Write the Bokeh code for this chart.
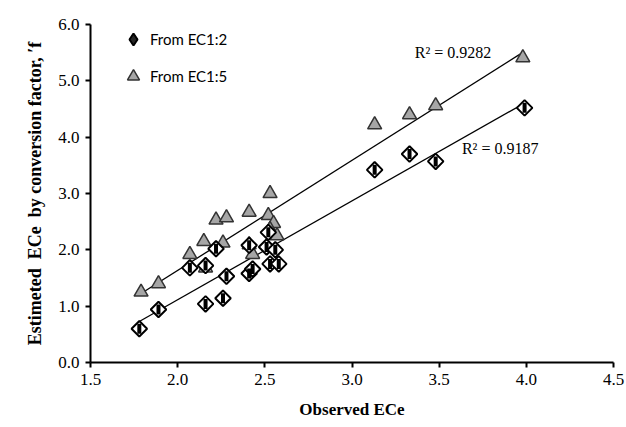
import numpy as np
from bokeh.plotting import figure
from bokeh.models import Legend, LegendItem, Range1d, Label, FixedTicker
from bokeh.embed import file_html
from bokeh.resources import INLINE

# EC1:2 derived estimates (diamonds)
x12 = [1.78, 1.89, 2.16, 2.26, 2.07, 2.16, 2.22, 2.28, 2.41, 2.43,
       2.41, 2.51, 2.56, 2.53, 2.58, 2.52, 3.13, 3.33, 3.48, 3.99]
y12 = [0.60, 0.94, 1.04, 1.14, 1.68, 1.72, 2.02, 1.53, 1.58, 1.66,
       2.08, 2.05, 2.00, 1.75, 1.75, 2.31, 3.42, 3.70, 3.57, 4.52]
# EC1:5 derived estimates (triangles)
x15 = [1.79, 1.89, 2.07, 2.15, 2.16, 2.22, 2.28, 2.26, 2.41, 2.41,
       2.43, 2.53, 2.52, 2.55, 2.53, 2.57, 3.13, 3.33, 3.48, 3.98]
y15 = [1.25, 1.40, 1.92, 2.15, 1.68, 2.53, 2.57, 2.12, 2.67, 2.09,
       1.92, 3.00, 2.61, 2.47, 2.36, 2.25, 4.22, 4.40, 4.56, 5.41]
r2_labels = ["R\u00b2 = 0.9282", "R\u00b2 = 0.9187"]
x_ticks = [1.5, 2.0, 2.5, 3.0, 3.5, 4.0, 4.5]
y_ticks = [0.0, 1.0, 2.0, 3.0, 4.0, 5.0, 6.0]

p = figure(width=626, height=427, output_backend="svg", toolbar_location=None,
           x_range=Range1d(1.5, 4.5), y_range=Range1d(0, 6.0),
           min_border_left=90, min_border_right=13, min_border_top=24, min_border_bottom=65)
p.outline_line_color = None
p.grid.visible = False
p.background_fill_color = "white"
p.border_fill_color = "white"

for ax in (p.xaxis[0], p.yaxis[0]):
    ax.axis_line_width = 2
    ax.axis_line_color = "black"
    ax.major_tick_line_width = 2
    ax.major_tick_line_color = "black"
    ax.major_tick_out = 5
    ax.major_tick_in = 0
    ax.minor_tick_line_color = None
    ax.major_label_text_font = "Liberation Serif"
    ax.major_label_text_font_size = "17px"
    ax.major_label_text_color = "black"
    ax.axis_label_text_font = "Liberation Serif"
    ax.axis_label_text_font_style = "bold"
    ax.axis_label_text_color = "black"

p.xaxis.axis_label_text_font_size = "17px"
p.yaxis.axis_label_text_font_size = "18px"
p.xaxis.ticker = FixedTicker(ticks=x_ticks)
p.yaxis.ticker = FixedTicker(ticks=y_ticks)
p.xaxis.major_label_overrides = {t: f"{t:.1f}" for t in x_ticks}
p.yaxis.major_label_overrides = {t: f"{t:.1f}" for t in y_ticks}
p.xaxis.axis_label = "Observed ECe"
p.yaxis.axis_label = "Estimeted\u00a0\u00a0ECe\u00a0\u00a0by conversion factor, \u2032f"
p.xaxis.major_label_standoff = 6
p.yaxis.major_label_standoff = 6
p.xaxis.axis_label_standoff = 12
p.yaxis.axis_label_standoff = 10

# trend lines from least squares fits
for xs, ys in ((x15, y15), (x12, y12)):
    k, b = np.polyfit(xs, ys, 1)
    xl = np.array([min(xs), max(xs)])
    p.line(xl, k * xl + b, line_color="black", line_width=1.3)

tri = p.scatter(x15, y15, marker="triangle", size=14, fill_color="#a6a6a6",
                line_color="#333333", line_width=1.5)
dia = p.scatter(x12, y12, marker="square", angle=np.pi / 4, size=11, fill_color="white",
                line_color="black", line_width=2)
p.scatter(x12, y12, marker="dash", angle=np.pi / 2, size=10, line_color="black",
          line_width=4)

# legend-only glyphs (hidden in the plot area)
leg_dia = p.scatter(x12[:1], y12[:1], marker="diamond", size=14, fill_color="white",
                    line_color="black", line_width=2, visible=False)
leg_dia2 = p.scatter(x12[:1], y12[:1], marker="diamond", size=14, fill_color="black",
                     line_color="black", line_width=1, fill_alpha=0.85, visible=False)
leg_tri = p.scatter(x15[:1], y15[:1], marker="triangle", size=14, fill_color="#a6a6a6",
                    line_color="#333333", line_width=1.5, visible=False)

# R² labels
p.add_layout(Label(x=3.58, y=5.51, text=r2_labels[0], text_font="Liberation Serif",
                   text_font_size="16px", text_align="center", text_baseline="middle",
                   text_color="black"))
p.add_layout(Label(x=3.85, y=3.80, text=r2_labels[1], text_font="Liberation Serif",
                   text_font_size="16px", text_align="center", text_baseline="middle",
                   text_color="black"))

legend = Legend(items=[LegendItem(label="From EC1:2", renderers=[leg_dia, leg_dia2]),
                       LegendItem(label="From EC1:5", renderers=[leg_tri])],
                location=(28, 271), orientation="vertical",
                glyph_width=30, glyph_height=30, label_height=30, spacing=7,
                label_standoff=2, padding=0, margin=0,
                label_text_font="Lato", label_text_font_size="15px",
                label_text_color="black",
                border_line_color=None, background_fill_alpha=0)
p.add_layout(legend, "center")

open("out.html", "w").write(file_html(p, INLINE))
